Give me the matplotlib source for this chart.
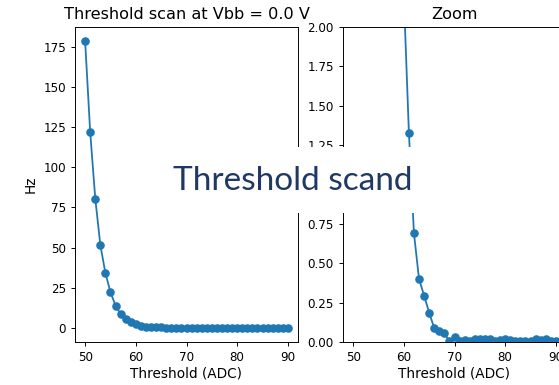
import matplotlib
matplotlib.use('Agg')
import matplotlib.pyplot as plt
from matplotlib.patches import Rectangle

# threshold scan: rate vs threshold, full range and zoom on the tail
threshold = list(range(50, 91))
rate_hz = [178.6, 121.8, 80.5, 51.6, 34.0, 22.2, 13.7, 8.5, 5.6, 3.5,
           2.2, 1.33, 0.69, 0.40, 0.295, 0.187, 0.088, 0.072, 0.055, 0.005,
           0.03, 0.008, 0.012, 0.006, 0.018, 0.02, 0.02, 0.018, 0.006, 0.012,
           0.02, 0.01, 0.006, 0.008, 0.006, 0.005, 0.018, 0.01, 0.02, 0.006,
           0.008]
vbb = 0.0
zoom_ylim = (0, 2)
overlay_text = 'Threshold scand'

s = 0.86  # screenshot scale
plt.rcParams['font.size'] = 10 * s
plt.rcParams['axes.linewidth'] = 0.8 * s
plt.rcParams['xtick.major.size'] = 3.5 * s
plt.rcParams['ytick.major.size'] = 3.5 * s
plt.rcParams['xtick.major.width'] = 0.8 * s
plt.rcParams['ytick.major.width'] = 0.8 * s

fig = plt.figure(figsize=(5.59, 3.85), dpi=100)
ax1 = fig.add_axes([75/559, 1 - 342/385, 223/559, 315/385])
ax2 = fig.add_axes([343/559, 1 - 342/385, 223/559, 315/385])

for ax in (ax1, ax2):
    ax.plot(threshold, rate_hz, 'o-', lw=1.5*s, ms=6*s)
    ax.set_xlabel('Threshold (ADC)', fontsize=9.8, labelpad=2)
    ax.set_xticks([50, 60, 70, 80, 90])

ax1.set_ylabel('Hz', fontsize=9.8)
ax1.set_title(f'Threshold scan at Vbb = {vbb:.1f} V', fontsize=11.6)
ax2.set_title('Zoom', fontsize=11.6)
ax2.set_ylim(*zoom_ylim)

# white box with slide caption on top
fig.patches.append(Rectangle((110/559, 1 - 213/385), 320/559, 66/385,
                             transform=fig.transFigure, facecolor='white',
                             edgecolor='none', zorder=10))
fig.text(173/559, 1 - 190/385, overlay_text, fontsize=24, family='Lato',
         color='#203864', va='baseline', ha='left', zorder=11)

fig.savefig('out.png', dpi=100)
